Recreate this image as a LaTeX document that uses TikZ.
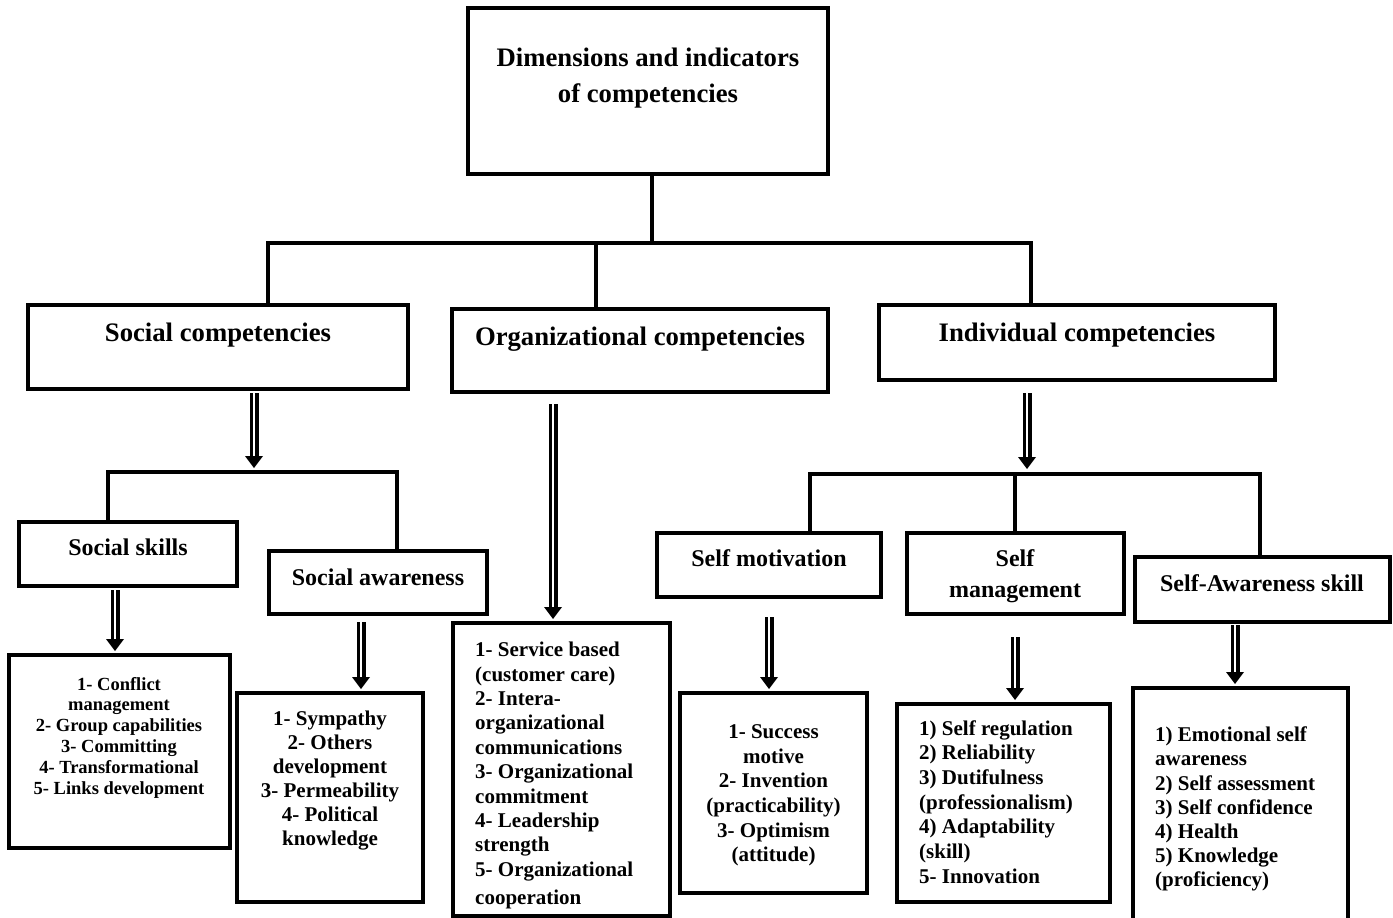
\documentclass[tikz,border=0pt]{standalone}
\usepackage{fontspec}
\setmainfont{Liberation Serif}
\usetikzlibrary{calc}
\tikzset{
  box/.style={draw, line width=4pt, inner sep=0pt},
  conn/.style={line width=4.5pt, line join=miter},
  dshaft/.style={draw, line width=3.5pt, double=white, double distance=2pt},
  ht/.style={anchor=base, inner sep=0pt, font=\bfseries\fontsize{26.7}{36}\selectfont},
  st/.style={anchor=base, inner sep=0pt, font=\bfseries\fontsize{24}{30.5}\selectfont},
  lt/.style={inner sep=0pt, font=\bfseries\fontsize{21}{24.5}\selectfont},
}
\newcommand\pbox[5]{\node[box, minimum width={(#4)-(#2)}, minimum height={(#5)-(#3)}] (#1) at ({((#2)+(#4))/2},{((#3)+(#5))/2}) {};}
\newcommand\darr[4]{%
  \draw[dshaft] ($(#1.south -| #3)+(0,#4)$) -- ($(#2.north -| #3)+(0,-13)$);
  \fill ($(#2.north -| #3)+(0,-2)$) -- ++(-9,-12) -- ++(18,0) -- cycle;}
\begin{document}
\begin{tikzpicture}[x=1pt, y=-1pt]
\useasboundingbox (0,0) rectangle (1393,918);
\clip (0,0) rectangle (1393,918);
\fill[white] (0,0) rectangle (1393,918);

% boxes
\pbox{title}{468}{8}{828}{174}
\pbox{soc}{28}{305}{408}{389}
\pbox{org}{452}{309}{828}{392}
\pbox{ind}{879}{305}{1275}{380}
\pbox{ssk}{19}{522}{237}{586}
\pbox{saw}{269}{551}{487}{614}
\pbox{smo}{657}{533}{881}{597}
\pbox{sma}{907}{533}{1124}{614}
\pbox{sas}{1135}{557}{1390}{622}
\pbox{sskL}{9}{655}{230}{848}
\pbox{sawL}{237}{693}{423}{902}
\pbox{orgL}{453}{623}{670}{916}
\pbox{smoL}{680}{693}{867}{893}
\pbox{smaL}{897}{704}{1110}{902}
\pbox{sasL}{1133}{688}{1348}{960}

% texts
\node[ht] (titletxt) at (648,66.7) {\parbox[t]{340pt}{\centering Dimensions and indicators\\of competencies}};
\node[ht] (soctxt) at (218,341.7) {Social competencies};
\node[ht] (orgtxt) at (640,345) {Organizational competencies};
\node[ht] (indtxt) at (1077,341.7) {Individual competencies};
\node[st] (ssktxt) at (128,555.7) {Social skills};
\node[st] (sawtxt) at (378,585) {Social awareness};
\node[st] (smotxt) at (769,566.7) {Self motivation};
\node[st] (smatxt) at (1015,566.7) {\parbox[t]{200pt}{\centering Self\\management}};
\node[st] (sastxt) at (1262,591) {Self-Awareness skill};

\node[lt, anchor=base, font=\bfseries\fontsize{18.5}{20.8}\selectfont] (sskLtxt) at (119,690)
  {\parbox[t]{215pt}{\centering 1- Conflict\\management\\2- Group capabilities\\3- Committing\\4- Transformational\\5- Links development}};
\node[lt, anchor=base, font=\bfseries\fontsize{21}{24}\selectfont] (sawLtxt) at (330,725)
  {\parbox[t]{184pt}{\centering 1- Sympathy\\2- Others\\development\\3- Permeability\\4- Political\\knowledge}};
\node[lt, anchor=base west, font=\bfseries\fontsize{21}{24.4}\selectfont] (orgLtxt) at (475,656.7)
  {\parbox[t]{190pt}{\raggedright 1- Service based\\(customer care)\\2- Intera-\\organizational\\communications\\3- Organizational\\commitment\\4- Leadership\\strength\\5- Organizational\\[3.6pt]cooperation}};
\node[lt, anchor=base, font=\bfseries\fontsize{21}{24.7}\selectfont] (smoLtxt) at (773.5,738.3)
  {\parbox[t]{185pt}{\centering 1- Success\\motive\\2- Invention\\(practicability)\\3- Optimism\\(attitude)}};
\node[lt, anchor=base west, font=\bfseries\fontsize{21}{24.7}\selectfont] (smaLtxt) at (919,735)
  {\parbox[t]{190pt}{\raggedright 1) Self regulation\\2) Reliability\\3) Dutifulness\\(professionalism)\\4) Adaptability\\(skill)\\5- Innovation}};
\node[lt, anchor=base west, font=\bfseries\fontsize{21}{24.2}\selectfont] (sasLtxt) at (1155,741.7)
  {\parbox[t]{190pt}{\raggedright 1) Emotional self\\awareness\\2) Self assessment\\3) Self confidence\\4) Health\\5) Knowledge\\(proficiency)}};

% tree connectors
\coordinate (tb) at (652,243);
\coordinate (bl) at (268,243);
\coordinate (bm) at (596,243);
\coordinate (br) at (1031,243);
\draw[conn] (title.south -| tb) -- (tb);
\draw[conn] (soc.north -| bl) -- (bl) -- (br) -- (ind.north -| br);
\draw[conn] (bm) -- (org.north -| bm);

\coordinate (sj) at (254,472);
\coordinate (sbl) at (108,472);
\coordinate (sbr) at (397,472);
\draw[conn] (ssk.north -| sbl) -- (sbl) -- (sbr) -- (saw.north -| sbr);
\draw[dshaft] ($(soc.south -| sj)+(0,2)$) -- ($(sj)+(0,-15)$);
\fill ($(sj)+(0,-4)$) -- ++(-9,-12) -- ++(18,0) -- cycle;

\coordinate (ij) at (1027,474);
\coordinate (ibl) at (810,474);
\coordinate (ibm) at (1015,474);
\coordinate (ibr) at (1260,474);
\draw[conn] (smo.north -| ibl) -- (ibl) -- (ibr) -- (sas.north -| ibr);
\draw[conn] (ibm) -- (sma.north -| ibm);
\draw[dshaft] ($(ind.south -| ij)+(0,11)$) -- ($(ij)+(0,-15)$);
\fill ($(ij)+(0,-5)$) -- ++(-9,-12) -- ++(18,0) -- cycle;

% double arrows to lists
\coordinate (a1) at (115,0);
\coordinate (a2) at (361,0);
\coordinate (a3) at (553,0);
\coordinate (a4) at (769,0);
\coordinate (a5) at (1015,0);
\coordinate (a6) at (1235,0);
\darr{ssk}{sskL}{a1}{2}
\darr{saw}{sawL}{a2}{6}
\darr{org}{orgL}{a3}{10}
\darr{smo}{smoL}{a4}{18}
\darr{sma}{smaL}{a5}{21}
\darr{sas}{sasL}{a6}{1}
\end{tikzpicture}
\end{document}
